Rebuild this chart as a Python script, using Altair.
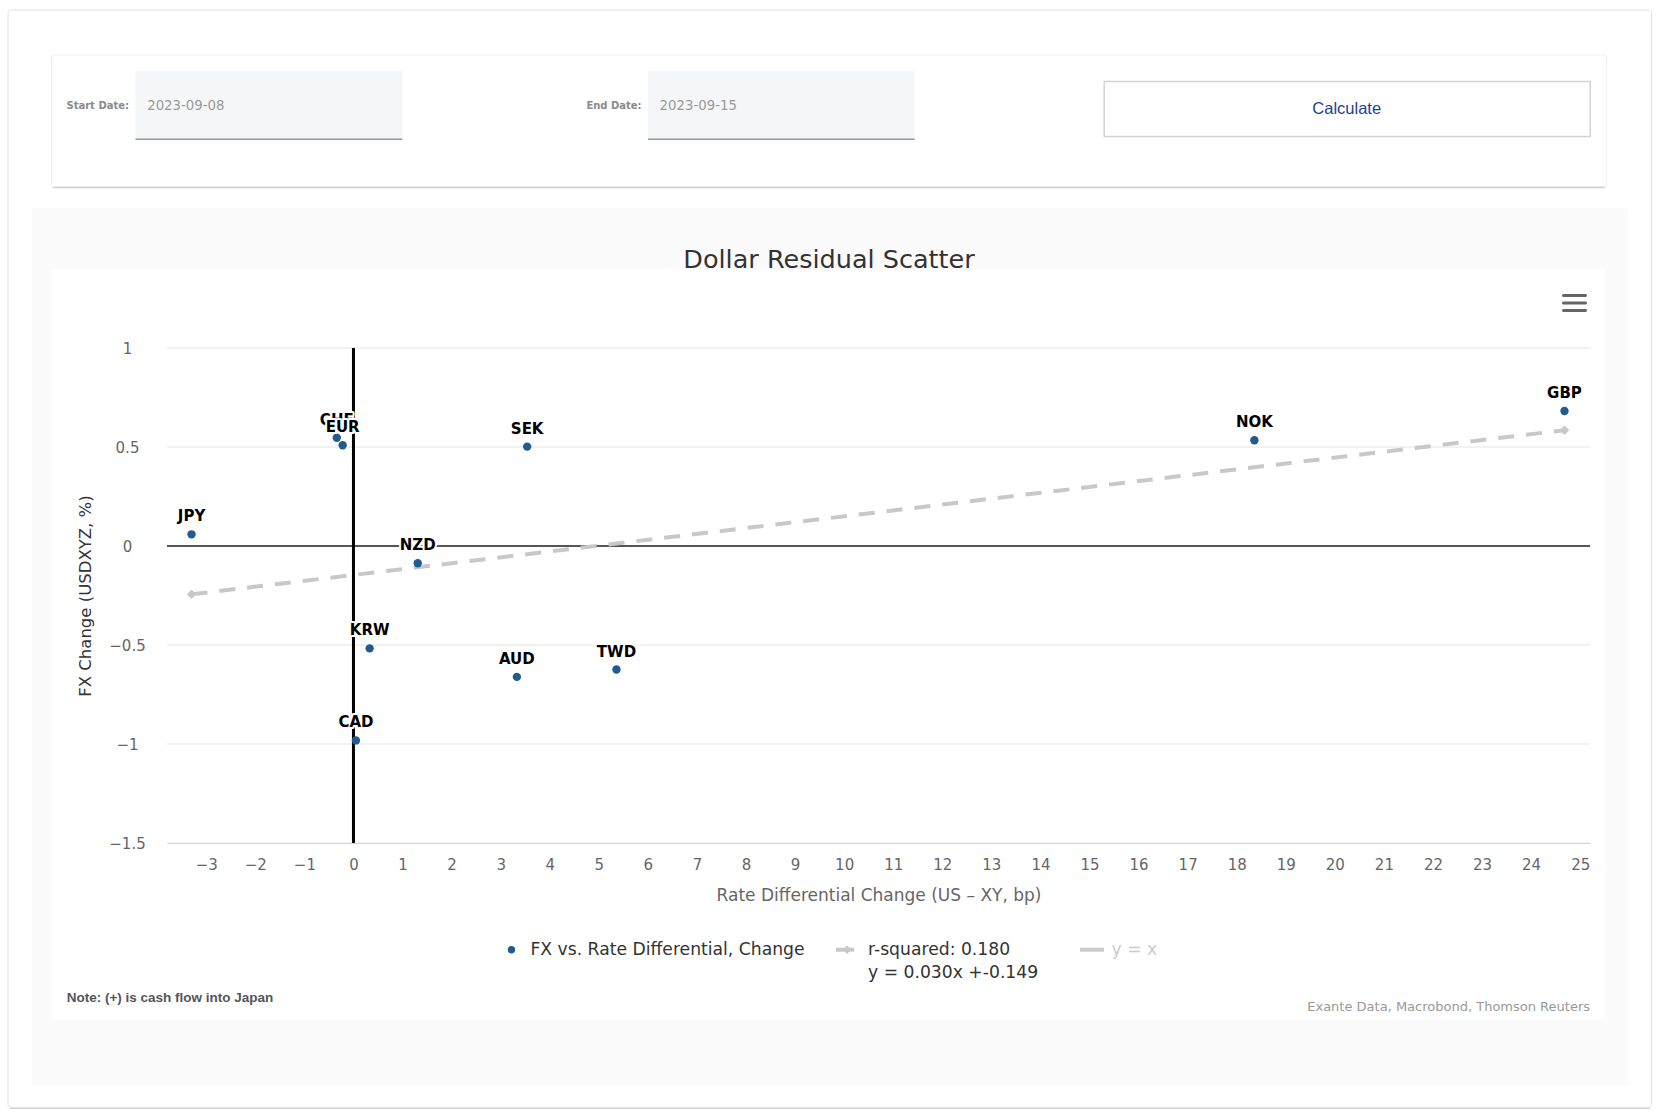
import altair as alt
import pandas as pd

# ---------------- data ----------------
currencies = ["JPY", "CHF", "EUR", "SEK", "NZD", "KRW", "AUD", "TWD", "CAD", "NOK", "GBP"]
rate_diff = [-3.30, -0.34, -0.22, 3.54, 1.31, 0.33, 3.33, 5.36, 0.05, 18.36, 24.68]
fx_change = [0.059, 0.547, 0.509, 0.502, -0.087, -0.517, -0.661, -0.624, -0.982, 0.534, 0.682]

fit_x = [-3.30, 24.68]
fit_y = [-0.244, 0.585]

x_ticks = list(range(-3, 26))
y_ticks = [-1.5, -1, -0.5, 0, 0.5, 1]
x_domain = [-3.8, 25.2]
y_domain = [-1.5, 1]

title_text = "Dollar Residual Scatter"
x_title = "Rate Differential Change (US – XY, bp)"
y_title = "FX Change (USDXYZ, %)"
legend_series = "FX vs. Rate Differential, Change"
legend_fit_1 = "r-squared: 0.180"
legend_fit_2 = "y = 0.030x +-0.149"
legend_identity = "y = x"
note_text = "Note: (+) is cash flow into Japan"
credits_text = "Exante Data, Macrobond, Thomson Reuters"
start_label, start_value = "Start Date:", "2023-09-08"
end_label, end_value = "End Date:", "2023-09-15"
button_text = "Calculate"

# ---------------- layout ----------------
PL, PT, PW, PH = 167, 348, 1423, 495
W, H = 1660, 1114
FONT = "DejaVu Sans"
BLUE = "#225b8f"

points = pd.DataFrame({"label": currencies, "x": rate_diff, "y": fx_change})
fit = pd.DataFrame({"x": fit_x, "y": fit_y})
one = pd.DataFrame({"a": [1]})

xs = alt.Scale(domain=x_domain, nice=False, zero=False)
ys = alt.Scale(domain=y_domain, nice=False, zero=False)
x_axis = alt.Axis(values=x_ticks, grid=False, ticks=False, domainColor="#ccd6eb", domainWidth=1,
                  labelColor="#666666", labelFontSize=15, labelFont=FONT, labelPadding=14,
                  labelFlush=False, labelOverlap=False, format="~g",
                  title=x_title, titleFont=FONT, titleFontSize=17, titleFontWeight="normal",
                  titleColor="#666666", titleX=PW / 2, titleY=52, titleBaseline="middle",
                  titleAlign="center", zindex=1)
y_axis = alt.Axis(values=y_ticks, grid=False, ticks=False, domain=False, format="~g",
                  labelColor="#666666", labelFontSize=15, labelFont=FONT, labelPadding=40,
                  labelAlign="center",
                  title=y_title, titleFont=FONT, titleFontSize=16.5, titleFontWeight="normal",
                  titleColor="#333333", titleX=-82, titleY=PH / 2, titleBaseline="middle",
                  titleAlign="center", titleAngle=-90, zindex=1)
X = alt.X("x:Q", scale=xs, axis=x_axis)
Y = alt.Y("y:Q", scale=ys, axis=y_axis)


def px(v):
    return v - PL


def py(v):
    return v - PT


def box(x0, y0, x1, y1, **kw):
    return alt.Chart(one).mark_rect(**kw).encode(
        x=alt.value(px(x0)), x2=alt.value(px(x1)), y=alt.value(py(y0)), y2=alt.value(py(y1)))


def hline(x0, x1, y, **kw):
    return alt.Chart(one).mark_rule(**kw).encode(
        x=alt.value(px(x0)), x2=alt.value(px(x1)), y=alt.value(py(y)))


def txt(text, x, y, **kw):
    kw.setdefault("font", FONT)
    kw.setdefault("baseline", "middle")
    return alt.Chart(one).mark_text(text=text, **kw).encode(x=alt.value(px(x)), y=alt.value(py(y)))


layers = []
# page decoration
layers.append(box(8, 10, 1651.5, 1107.7, fill="white", stroke="#e2e2e2", strokeWidth=1, cornerRadius=3))
layers.append(hline(10, 1650, 1108.3, color="#d5d5d5", strokeWidth=1.2))
layers.append(box(51.7, 55, 1606.7, 187, fill="white", stroke="#eeeeee", strokeWidth=1, cornerRadius=3))
layers.append(hline(53, 1605, 187.5, color="#cfcfcf", strokeWidth=1.5))
layers.append(txt(start_label, 129, 106, align="right", fontSize=10, fontWeight="bold", color="#8a8a8a"))
layers.append(box(135.5, 70.9, 402.3, 139.7, fill="#f5f6f8"))
layers.append(hline(135.5, 402.3, 139.2, color="#9a9a9a", strokeWidth=1.6))
layers.append(txt(start_value, 147.2, 106, align="left", fontSize=13.3, color="#9a9a9a"))
layers.append(txt(end_label, 641.6, 106, align="right", fontSize=10, fontWeight="bold", color="#8a8a8a"))
layers.append(box(648, 70.9, 914.7, 139.7, fill="#f5f6f8"))
layers.append(hline(648, 914.7, 139.2, color="#9a9a9a", strokeWidth=1.6))
layers.append(txt(end_value, 659.6, 106, align="left", fontSize=13.3, color="#9a9a9a"))
layers.append(box(1104.2, 81.5, 1590.2, 136.6, fill="white", stroke="#d2d2d2", strokeWidth=1.5))
layers.append(txt(button_text, 1346.7, 108.5, align="center", fontSize=16.5, font="Liberation Sans", color="#1b3f95"))

layers.append(box(31, 208.3, 1627.7, 1085.7, fill="#fbfbfb"))
layers.append(box(51.7, 269.3, 1606, 1019.3, fill="white"))
layers.append(txt(title_text, 829, 260, align="center", fontSize=25.5, color="#333333"))
for yy in (295.5, 303, 310.5):
    layers.append(box(1562, yy - 1.6, 1587, yy + 1.6, fill="#666666", cornerRadius=1.5))

# grid lines
grid = pd.DataFrame({"y": y_ticks})
layers.append(alt.Chart(grid).mark_rule(color="#e6e6e6", strokeWidth=1).encode(y=Y))
# zero lines
layers.append(alt.Chart(pd.DataFrame({"y": [0]})).mark_rule(color="#222222", strokeWidth=1.6).encode(y=Y))
layers.append(alt.Chart(pd.DataFrame({"x": [0]})).mark_rule(color="black", strokeWidth=3).encode(x=X))

# regression line
layers.append(alt.Chart(fit).mark_line(color="#c8c8c8", strokeWidth=4, strokeDash=[16, 12]).encode(x=X, y=Y))
layers.append(alt.Chart(fit).mark_point(shape="diamond", filled=True, color="#c8c8c8", size=90, opacity=1).encode(x=X, y=Y))

# points
layers.append(alt.Chart(points).mark_circle(size=70, color=BLUE, opacity=1).encode(x=X, y=Y))

lab_kw = dict(font=FONT, fontSize=15, fontWeight="bold", dy=-13, baseline="alphabetic", align="center")
halo = alt.Chart(points).mark_text(color="white", stroke="white", strokeWidth=4, strokeJoin="round", **lab_kw).encode(
    x=X, y=Y, text="label:N")
labs = alt.Chart(points).mark_text(color="black", **lab_kw).encode(x=X, y=Y, text="label:N")
layers += [halo, labs]
eur = points[points["label"] == "EUR"]
layers.append(alt.Chart(eur).mark_text(color="white", stroke="white", strokeWidth=4, strokeJoin="round", **lab_kw).encode(
    x=X, y=Y, text="label:N"))
layers.append(alt.Chart(eur).mark_text(color="black", **lab_kw).encode(x=X, y=Y, text="label:N"))

# legend
LY = 949.7
layers.append(alt.Chart(one).mark_circle(size=55, color=BLUE, opacity=1).encode(x=alt.value(px(511.4)), y=alt.value(py(LY))))
layers.append(txt(legend_series, 530.4, LY, align="left", fontSize=17.2, color="#333333"))
layers.append(hline(836, 854, LY, color="#c8c8c8", strokeWidth=4))
layers.append(alt.Chart(one).mark_point(shape="diamond", filled=True, color="#c8c8c8", size=70, opacity=1).encode(
    x=alt.value(px(847)), y=alt.value(py(LY))))
layers.append(txt(legend_fit_1, 868, LY, align="left", fontSize=17.2, color="#333333"))
layers.append(txt(legend_fit_2, 868, 972.5, align="left", fontSize=17.2, color="#333333"))
layers.append(hline(1080, 1104, LY, color="#cccccc", strokeWidth=4))
layers.append(txt(legend_identity, 1111.6, LY, align="left", fontSize=17.2, color="#cccccc"))

# footer texts
layers.append(txt(note_text, 66.7, 998.4, align="left", fontSize=13.5, fontWeight="bold", font="Liberation Sans", color="#555555"))
layers.append(txt(credits_text, 1590, 1006.8, align="right", fontSize=13, color="#999999"))

chart = alt.layer(*layers).properties(
    width=PW, height=PH,
    autosize=alt.AutoSizeParams(type="none"),
    padding={"left": PL, "top": PT, "right": W - PL - PW, "bottom": H - PT - PH},
    background="white",
).configure_view(stroke=None)

chart.save("out.html", embed_options={"renderer": "svg", "actions": False})
